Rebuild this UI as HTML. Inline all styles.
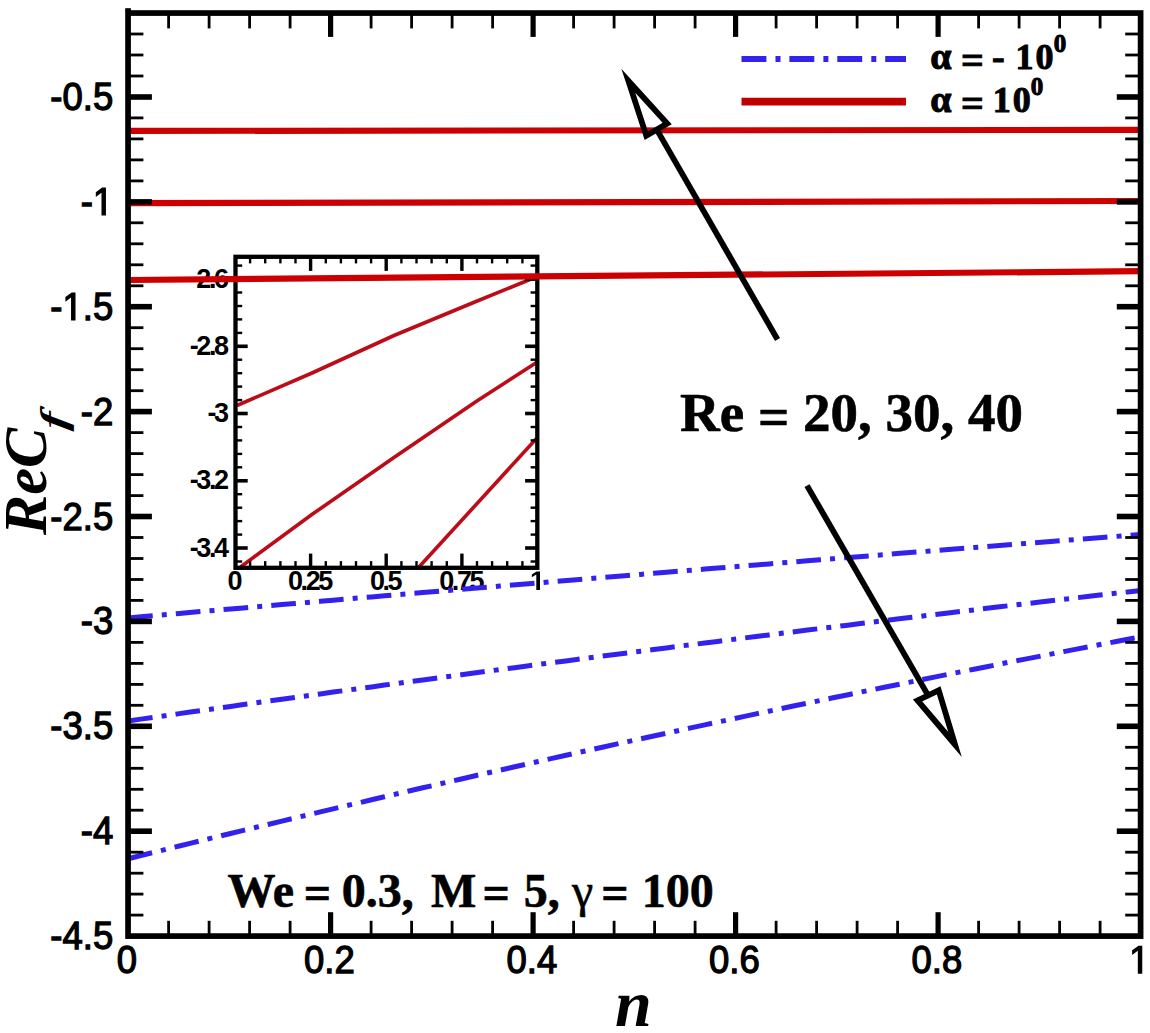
<!DOCTYPE html>
<html><head><meta charset="utf-8"><style>
html,body{margin:0;padding:0;background:#fff;width:1150px;height:1033px;overflow:hidden}
svg{display:block}
</style></head><body>
<svg width="1150" height="1033" viewBox="0 0 1150 1033">
<rect x="235.5" y="256.8" width="301.79999999999995" height="310.99999999999994" fill="#fff" stroke="none"/>
<polyline points="237.0,405.5 312.0,373.0 394.0,335.5 476.0,301.5 536.0,277.0" fill="none" stroke="#bb0c18" stroke-width="3.6"/>
<polyline points="240.5,567.0 312.2,514.3 394.3,457.3 476.5,401.2 536.5,362.5" fill="none" stroke="#bb0c18" stroke-width="3.6"/>
<polyline points="419.0,567.0 536.5,438.5" fill="none" stroke="#bb0c18" stroke-width="3.6"/>
<line x1="250.1" y1="567.8" x2="250.1" y2="561.1" stroke="#000" stroke-width="2.4"/>
<line x1="250.1" y1="256.8" x2="250.1" y2="263.4" stroke="#000" stroke-width="2.4"/>
<line x1="265.2" y1="567.8" x2="265.2" y2="561.1" stroke="#000" stroke-width="2.4"/>
<line x1="265.2" y1="256.8" x2="265.2" y2="263.4" stroke="#000" stroke-width="2.4"/>
<line x1="280.4" y1="567.8" x2="280.4" y2="561.1" stroke="#000" stroke-width="2.4"/>
<line x1="280.4" y1="256.8" x2="280.4" y2="263.4" stroke="#000" stroke-width="2.4"/>
<line x1="295.5" y1="567.8" x2="295.5" y2="561.1" stroke="#000" stroke-width="2.4"/>
<line x1="295.5" y1="256.8" x2="295.5" y2="263.4" stroke="#000" stroke-width="2.4"/>
<line x1="310.6" y1="567.8" x2="310.6" y2="553.6" stroke="#000" stroke-width="3.4"/>
<line x1="310.6" y1="256.8" x2="310.6" y2="270.9" stroke="#000" stroke-width="3.4"/>
<line x1="325.8" y1="567.8" x2="325.8" y2="561.1" stroke="#000" stroke-width="2.4"/>
<line x1="325.8" y1="256.8" x2="325.8" y2="263.4" stroke="#000" stroke-width="2.4"/>
<line x1="340.9" y1="567.8" x2="340.9" y2="561.1" stroke="#000" stroke-width="2.4"/>
<line x1="340.9" y1="256.8" x2="340.9" y2="263.4" stroke="#000" stroke-width="2.4"/>
<line x1="356.0" y1="567.8" x2="356.0" y2="561.1" stroke="#000" stroke-width="2.4"/>
<line x1="356.0" y1="256.8" x2="356.0" y2="263.4" stroke="#000" stroke-width="2.4"/>
<line x1="371.1" y1="567.8" x2="371.1" y2="561.1" stroke="#000" stroke-width="2.4"/>
<line x1="371.1" y1="256.8" x2="371.1" y2="263.4" stroke="#000" stroke-width="2.4"/>
<line x1="386.2" y1="567.8" x2="386.2" y2="553.6" stroke="#000" stroke-width="3.4"/>
<line x1="386.2" y1="256.8" x2="386.2" y2="270.9" stroke="#000" stroke-width="3.4"/>
<line x1="401.4" y1="567.8" x2="401.4" y2="561.1" stroke="#000" stroke-width="2.4"/>
<line x1="401.4" y1="256.8" x2="401.4" y2="263.4" stroke="#000" stroke-width="2.4"/>
<line x1="416.5" y1="567.8" x2="416.5" y2="561.1" stroke="#000" stroke-width="2.4"/>
<line x1="416.5" y1="256.8" x2="416.5" y2="263.4" stroke="#000" stroke-width="2.4"/>
<line x1="431.6" y1="567.8" x2="431.6" y2="561.1" stroke="#000" stroke-width="2.4"/>
<line x1="431.6" y1="256.8" x2="431.6" y2="263.4" stroke="#000" stroke-width="2.4"/>
<line x1="446.8" y1="567.8" x2="446.8" y2="561.1" stroke="#000" stroke-width="2.4"/>
<line x1="446.8" y1="256.8" x2="446.8" y2="263.4" stroke="#000" stroke-width="2.4"/>
<line x1="461.9" y1="567.8" x2="461.9" y2="553.6" stroke="#000" stroke-width="3.4"/>
<line x1="461.9" y1="256.8" x2="461.9" y2="270.9" stroke="#000" stroke-width="3.4"/>
<line x1="477.0" y1="567.8" x2="477.0" y2="561.1" stroke="#000" stroke-width="2.4"/>
<line x1="477.0" y1="256.8" x2="477.0" y2="263.4" stroke="#000" stroke-width="2.4"/>
<line x1="492.1" y1="567.8" x2="492.1" y2="561.1" stroke="#000" stroke-width="2.4"/>
<line x1="492.1" y1="256.8" x2="492.1" y2="263.4" stroke="#000" stroke-width="2.4"/>
<line x1="507.2" y1="567.8" x2="507.2" y2="561.1" stroke="#000" stroke-width="2.4"/>
<line x1="507.2" y1="256.8" x2="507.2" y2="263.4" stroke="#000" stroke-width="2.4"/>
<line x1="522.4" y1="567.8" x2="522.4" y2="561.1" stroke="#000" stroke-width="2.4"/>
<line x1="522.4" y1="256.8" x2="522.4" y2="263.4" stroke="#000" stroke-width="2.4"/>
<line x1="235.5" y1="265.6" x2="242.2" y2="265.6" stroke="#000" stroke-width="2.4"/>
<line x1="537.3" y1="265.6" x2="530.6" y2="265.6" stroke="#000" stroke-width="2.4"/>
<line x1="235.5" y1="279.1" x2="247.7" y2="279.1" stroke="#000" stroke-width="3.6"/>
<line x1="537.3" y1="279.1" x2="525.1" y2="279.1" stroke="#000" stroke-width="3.6"/>
<line x1="235.5" y1="292.5" x2="242.2" y2="292.5" stroke="#000" stroke-width="2.4"/>
<line x1="537.3" y1="292.5" x2="530.6" y2="292.5" stroke="#000" stroke-width="2.4"/>
<line x1="235.5" y1="306.0" x2="242.2" y2="306.0" stroke="#000" stroke-width="2.4"/>
<line x1="537.3" y1="306.0" x2="530.6" y2="306.0" stroke="#000" stroke-width="2.4"/>
<line x1="235.5" y1="319.4" x2="242.2" y2="319.4" stroke="#000" stroke-width="2.4"/>
<line x1="537.3" y1="319.4" x2="530.6" y2="319.4" stroke="#000" stroke-width="2.4"/>
<line x1="235.5" y1="332.9" x2="242.2" y2="332.9" stroke="#000" stroke-width="2.4"/>
<line x1="537.3" y1="332.9" x2="530.6" y2="332.9" stroke="#000" stroke-width="2.4"/>
<line x1="235.5" y1="346.3" x2="247.7" y2="346.3" stroke="#000" stroke-width="3.6"/>
<line x1="537.3" y1="346.3" x2="525.1" y2="346.3" stroke="#000" stroke-width="3.6"/>
<line x1="235.5" y1="359.7" x2="242.2" y2="359.7" stroke="#000" stroke-width="2.4"/>
<line x1="537.3" y1="359.7" x2="530.6" y2="359.7" stroke="#000" stroke-width="2.4"/>
<line x1="235.5" y1="373.2" x2="242.2" y2="373.2" stroke="#000" stroke-width="2.4"/>
<line x1="537.3" y1="373.2" x2="530.6" y2="373.2" stroke="#000" stroke-width="2.4"/>
<line x1="235.5" y1="386.6" x2="242.2" y2="386.6" stroke="#000" stroke-width="2.4"/>
<line x1="537.3" y1="386.6" x2="530.6" y2="386.6" stroke="#000" stroke-width="2.4"/>
<line x1="235.5" y1="400.1" x2="242.2" y2="400.1" stroke="#000" stroke-width="2.4"/>
<line x1="537.3" y1="400.1" x2="530.6" y2="400.1" stroke="#000" stroke-width="2.4"/>
<line x1="235.5" y1="413.5" x2="247.7" y2="413.5" stroke="#000" stroke-width="3.6"/>
<line x1="537.3" y1="413.5" x2="525.1" y2="413.5" stroke="#000" stroke-width="3.6"/>
<line x1="235.5" y1="427.0" x2="242.2" y2="427.0" stroke="#000" stroke-width="2.4"/>
<line x1="537.3" y1="427.0" x2="530.6" y2="427.0" stroke="#000" stroke-width="2.4"/>
<line x1="235.5" y1="440.4" x2="242.2" y2="440.4" stroke="#000" stroke-width="2.4"/>
<line x1="537.3" y1="440.4" x2="530.6" y2="440.4" stroke="#000" stroke-width="2.4"/>
<line x1="235.5" y1="453.9" x2="242.2" y2="453.9" stroke="#000" stroke-width="2.4"/>
<line x1="537.3" y1="453.9" x2="530.6" y2="453.9" stroke="#000" stroke-width="2.4"/>
<line x1="235.5" y1="467.3" x2="242.2" y2="467.3" stroke="#000" stroke-width="2.4"/>
<line x1="537.3" y1="467.3" x2="530.6" y2="467.3" stroke="#000" stroke-width="2.4"/>
<line x1="235.5" y1="480.8" x2="247.7" y2="480.8" stroke="#000" stroke-width="3.6"/>
<line x1="537.3" y1="480.8" x2="525.1" y2="480.8" stroke="#000" stroke-width="3.6"/>
<line x1="235.5" y1="494.2" x2="242.2" y2="494.2" stroke="#000" stroke-width="2.4"/>
<line x1="537.3" y1="494.2" x2="530.6" y2="494.2" stroke="#000" stroke-width="2.4"/>
<line x1="235.5" y1="507.7" x2="242.2" y2="507.7" stroke="#000" stroke-width="2.4"/>
<line x1="537.3" y1="507.7" x2="530.6" y2="507.7" stroke="#000" stroke-width="2.4"/>
<line x1="235.5" y1="521.1" x2="242.2" y2="521.1" stroke="#000" stroke-width="2.4"/>
<line x1="537.3" y1="521.1" x2="530.6" y2="521.1" stroke="#000" stroke-width="2.4"/>
<line x1="235.5" y1="534.6" x2="242.2" y2="534.6" stroke="#000" stroke-width="2.4"/>
<line x1="537.3" y1="534.6" x2="530.6" y2="534.6" stroke="#000" stroke-width="2.4"/>
<line x1="235.5" y1="548.0" x2="247.7" y2="548.0" stroke="#000" stroke-width="3.6"/>
<line x1="537.3" y1="548.0" x2="525.1" y2="548.0" stroke="#000" stroke-width="3.6"/>
<line x1="235.5" y1="561.5" x2="242.2" y2="561.5" stroke="#000" stroke-width="2.4"/>
<line x1="537.3" y1="561.5" x2="530.6" y2="561.5" stroke="#000" stroke-width="2.4"/>
<rect x="235.5" y="256.8" width="301.79999999999995" height="310.99999999999994" fill="none" stroke="#000" stroke-width="4.3"/>
<g transform="translate(229.00,287.76) scale(1.0,1)" fill="#000"><text x="-39.32 -32.73 -20.12 -15.02" y="0" font-family="'Liberation Sans', sans-serif" font-weight="bold" font-style="normal" font-size="27" stroke-width="0.0">-2.6</text></g>
<g transform="translate(229.00,355.00) scale(1.0,1)" fill="#000"><text x="-39.32 -32.73 -20.12 -15.02" y="0" font-family="'Liberation Sans', sans-serif" font-weight="bold" font-style="normal" font-size="27" stroke-width="0.0">-2.8</text></g>
<g transform="translate(229.00,422.24) scale(1.0,1)" fill="#000"><text x="-21.61 -15.02" y="0" font-family="'Liberation Sans', sans-serif" font-weight="bold" font-style="normal" font-size="27" stroke-width="0.0">-3</text></g>
<g transform="translate(229.00,489.48) scale(1.0,1)" fill="#000"><text x="-39.32 -32.73 -20.12 -15.02" y="0" font-family="'Liberation Sans', sans-serif" font-weight="bold" font-style="normal" font-size="27" stroke-width="0.0">-3.2</text></g>
<g transform="translate(229.00,556.72) scale(1.0,1)" fill="#000"><text x="-39.32 -32.73 -20.12 -15.02" y="0" font-family="'Liberation Sans', sans-serif" font-weight="bold" font-style="normal" font-size="27" stroke-width="0.0">-3.4</text></g>
<g transform="translate(235.00,590.00) scale(1.0,1)" fill="#000"><text x="-7.51" y="0" font-family="'Liberation Sans', sans-serif" font-weight="bold" font-style="normal" font-size="27" stroke-width="0.0">0</text></g>
<g transform="translate(310.62,590.00) scale(1.0,1)" fill="#000"><text x="-22.67 -10.06 -4.96 7.66" y="0" font-family="'Liberation Sans', sans-serif" font-weight="bold" font-style="normal" font-size="27" stroke-width="0.0">0.25</text></g>
<g transform="translate(386.25,590.00) scale(1.0,1)" fill="#000"><text x="-16.37 -3.75 1.35" y="0" font-family="'Liberation Sans', sans-serif" font-weight="bold" font-style="normal" font-size="27" stroke-width="0.0">0.5</text></g>
<g transform="translate(461.88,590.00) scale(1.0,1)" fill="#000"><text x="-22.67 -10.06 -4.96 7.66" y="0" font-family="'Liberation Sans', sans-serif" font-weight="bold" font-style="normal" font-size="27" stroke-width="0.0">0.75</text></g>
<g transform="translate(537.50,590.00) scale(1.0,1)" fill="#000"><path transform="translate(-7.51,0) scale(0.01318,-0.01318)" d="M478,0 L478,1170 L140,959 L140,1180 L493,1409 L759,1409 L759,0 Z" stroke-width="0.0"/></g>
<line x1="128.05" y1="130.9" x2="1140.6" y2="129.9" stroke="#cc0000" stroke-width="6.2"/>
<line x1="128.05" y1="203.2" x2="1140.6" y2="201.0" stroke="#cc0000" stroke-width="6.2"/>
<line x1="128.05" y1="280.0" x2="1140.6" y2="271.2" stroke="#cc0000" stroke-width="6.2"/>
<polyline points="128.1,617.9 140.9,616.8 153.7,615.7 166.5,614.5 179.3,613.4 192.1,612.3 205.0,611.2 217.8,610.1 230.6,609.0 243.4,607.9 256.2,606.8 269.0,605.7 281.9,604.6 294.7,603.5 307.5,602.4 320.3,601.3 333.1,600.2 345.9,599.1 358.8,598.0 371.6,596.9 384.4,595.8 397.2,594.7 410.0,593.6 422.8,592.6 435.7,591.5 448.5,590.4 461.3,589.3 474.1,588.2 486.9,587.2 499.7,586.1 512.6,585.0 525.4,584.0 538.2,582.9 551.0,581.8 563.8,580.7 576.6,579.7 589.5,578.6 602.3,577.6 615.1,576.5 627.9,575.4 640.7,574.4 653.6,573.3 666.4,572.3 679.2,571.2 692.0,570.2 704.8,569.1 717.6,568.1 730.5,567.0 743.3,566.0 756.1,565.0 768.9,563.9 781.7,562.9 794.5,561.9 807.4,560.8 820.2,559.8 833.0,558.8 845.8,557.7 858.6,556.7 871.4,555.7 884.3,554.6 897.1,553.6 909.9,552.6 922.7,551.6 935.5,550.6 948.3,549.5 961.2,548.5 974.0,547.5 986.8,546.5 999.6,545.5 1012.4,544.5 1025.2,543.5 1038.1,542.5 1050.9,541.5 1063.7,540.5 1076.5,539.5 1089.3,538.5 1102.1,537.5 1115.0,536.5 1127.8,535.5 1140.6,534.5" fill="none" stroke="#3322ee" stroke-width="5.0" stroke-dasharray="24.7 9.1 5 9.1"/>
<polyline points="128.1,721.0 140.9,719.1 153.7,717.3 166.5,715.5 179.3,713.6 192.1,711.8 205.0,710.0 217.8,708.2 230.6,706.4 243.4,704.6 256.2,702.8 269.0,701.0 281.9,699.2 294.7,697.5 307.5,695.7 320.3,693.9 333.1,692.1 345.9,690.4 358.8,688.6 371.6,686.9 384.4,685.1 397.2,683.4 410.0,681.6 422.8,679.9 435.7,678.2 448.5,676.5 461.3,674.7 474.1,673.0 486.9,671.3 499.7,669.6 512.6,667.9 525.4,666.2 538.2,664.5 551.0,662.8 563.8,661.2 576.6,659.5 589.5,657.8 602.3,656.1 615.1,654.5 627.9,652.8 640.7,651.2 653.6,649.5 666.4,647.9 679.2,646.2 692.0,644.6 704.8,643.0 717.6,641.4 730.5,639.7 743.3,638.1 756.1,636.5 768.9,634.9 781.7,633.3 794.5,631.7 807.4,630.1 820.2,628.5 833.0,627.0 845.8,625.4 858.6,623.8 871.4,622.2 884.3,620.7 897.1,619.1 909.9,617.6 922.7,616.0 935.5,614.5 948.3,612.9 961.2,611.4 974.0,609.9 986.8,608.3 999.6,606.8 1012.4,605.3 1025.2,603.8 1038.1,602.3 1050.9,600.8 1063.7,599.3 1076.5,597.8 1089.3,596.3 1102.1,594.8 1115.0,593.3 1127.8,591.9 1140.6,590.4" fill="none" stroke="#3322ee" stroke-width="5.0" stroke-dasharray="24.7 9.1 5 9.1"/>
<polyline points="128.1,858.7 140.9,855.5 153.7,852.4 166.5,849.2 179.3,846.0 192.1,842.9 205.0,839.7 217.8,836.6 230.6,833.5 243.4,830.4 256.2,827.3 269.0,824.2 281.9,821.1 294.7,818.0 307.5,815.0 320.3,811.9 333.1,808.9 345.9,805.8 358.8,802.8 371.6,799.8 384.4,796.8 397.2,793.8 410.0,790.8 422.8,787.8 435.7,784.9 448.5,781.9 461.3,779.0 474.1,776.0 486.9,773.1 499.7,770.2 512.6,767.3 525.4,764.4 538.2,761.5 551.0,758.6 563.8,755.8 576.6,752.9 589.5,750.1 602.3,747.2 615.1,744.4 627.9,741.6 640.7,738.8 653.6,736.0 666.4,733.2 679.2,730.4 692.0,727.6 704.8,724.9 717.6,722.1 730.5,719.4 743.3,716.6 756.1,713.9 768.9,711.2 781.7,708.5 794.5,705.8 807.4,703.1 820.2,700.5 833.0,697.8 845.8,695.2 858.6,692.5 871.4,689.9 884.3,687.3 897.1,684.7 909.9,682.1 922.7,679.5 935.5,676.9 948.3,674.3 961.2,671.7 974.0,669.2 986.8,666.7 999.6,664.1 1012.4,661.6 1025.2,659.1 1038.1,656.6 1050.9,654.1 1063.7,651.6 1076.5,649.1 1089.3,646.7 1102.1,644.2 1115.0,641.8 1127.8,639.3 1140.6,636.9" fill="none" stroke="#3322ee" stroke-width="5.0" stroke-dasharray="24.7 9.1 5 9.1"/>
<line x1="168.6" y1="936.1" x2="168.6" y2="920.8" stroke="#000" stroke-width="2.8"/>
<line x1="168.6" y1="13.05" x2="168.6" y2="28.4" stroke="#000" stroke-width="2.8"/>
<line x1="209.1" y1="936.1" x2="209.1" y2="920.8" stroke="#000" stroke-width="2.8"/>
<line x1="209.1" y1="13.05" x2="209.1" y2="28.4" stroke="#000" stroke-width="2.8"/>
<line x1="249.6" y1="936.1" x2="249.6" y2="920.8" stroke="#000" stroke-width="2.8"/>
<line x1="249.6" y1="13.05" x2="249.6" y2="28.4" stroke="#000" stroke-width="2.8"/>
<line x1="290.1" y1="936.1" x2="290.1" y2="920.8" stroke="#000" stroke-width="2.8"/>
<line x1="290.1" y1="13.05" x2="290.1" y2="28.4" stroke="#000" stroke-width="2.8"/>
<line x1="330.6" y1="936.1" x2="330.6" y2="912.2" stroke="#000" stroke-width="5.2"/>
<line x1="330.6" y1="13.05" x2="330.6" y2="36.9" stroke="#000" stroke-width="5.2"/>
<line x1="371.1" y1="936.1" x2="371.1" y2="920.8" stroke="#000" stroke-width="2.8"/>
<line x1="371.1" y1="13.05" x2="371.1" y2="28.4" stroke="#000" stroke-width="2.8"/>
<line x1="411.6" y1="936.1" x2="411.6" y2="920.8" stroke="#000" stroke-width="2.8"/>
<line x1="411.6" y1="13.05" x2="411.6" y2="28.4" stroke="#000" stroke-width="2.8"/>
<line x1="452.1" y1="936.1" x2="452.1" y2="920.8" stroke="#000" stroke-width="2.8"/>
<line x1="452.1" y1="13.05" x2="452.1" y2="28.4" stroke="#000" stroke-width="2.8"/>
<line x1="492.6" y1="936.1" x2="492.6" y2="920.8" stroke="#000" stroke-width="2.8"/>
<line x1="492.6" y1="13.05" x2="492.6" y2="28.4" stroke="#000" stroke-width="2.8"/>
<line x1="533.1" y1="936.1" x2="533.1" y2="912.2" stroke="#000" stroke-width="5.2"/>
<line x1="533.1" y1="13.05" x2="533.1" y2="36.9" stroke="#000" stroke-width="5.2"/>
<line x1="573.6" y1="936.1" x2="573.6" y2="920.8" stroke="#000" stroke-width="2.8"/>
<line x1="573.6" y1="13.05" x2="573.6" y2="28.4" stroke="#000" stroke-width="2.8"/>
<line x1="614.1" y1="936.1" x2="614.1" y2="920.8" stroke="#000" stroke-width="2.8"/>
<line x1="614.1" y1="13.05" x2="614.1" y2="28.4" stroke="#000" stroke-width="2.8"/>
<line x1="654.6" y1="936.1" x2="654.6" y2="920.8" stroke="#000" stroke-width="2.8"/>
<line x1="654.6" y1="13.05" x2="654.6" y2="28.4" stroke="#000" stroke-width="2.8"/>
<line x1="695.1" y1="936.1" x2="695.1" y2="920.8" stroke="#000" stroke-width="2.8"/>
<line x1="695.1" y1="13.05" x2="695.1" y2="28.4" stroke="#000" stroke-width="2.8"/>
<line x1="735.6" y1="936.1" x2="735.6" y2="912.2" stroke="#000" stroke-width="5.2"/>
<line x1="735.6" y1="13.05" x2="735.6" y2="36.9" stroke="#000" stroke-width="5.2"/>
<line x1="776.1" y1="936.1" x2="776.1" y2="920.8" stroke="#000" stroke-width="2.8"/>
<line x1="776.1" y1="13.05" x2="776.1" y2="28.4" stroke="#000" stroke-width="2.8"/>
<line x1="816.6" y1="936.1" x2="816.6" y2="920.8" stroke="#000" stroke-width="2.8"/>
<line x1="816.6" y1="13.05" x2="816.6" y2="28.4" stroke="#000" stroke-width="2.8"/>
<line x1="857.1" y1="936.1" x2="857.1" y2="920.8" stroke="#000" stroke-width="2.8"/>
<line x1="857.1" y1="13.05" x2="857.1" y2="28.4" stroke="#000" stroke-width="2.8"/>
<line x1="897.6" y1="936.1" x2="897.6" y2="920.8" stroke="#000" stroke-width="2.8"/>
<line x1="897.6" y1="13.05" x2="897.6" y2="28.4" stroke="#000" stroke-width="2.8"/>
<line x1="938.1" y1="936.1" x2="938.1" y2="912.2" stroke="#000" stroke-width="5.2"/>
<line x1="938.1" y1="13.05" x2="938.1" y2="36.9" stroke="#000" stroke-width="5.2"/>
<line x1="978.6" y1="936.1" x2="978.6" y2="920.8" stroke="#000" stroke-width="2.8"/>
<line x1="978.6" y1="13.05" x2="978.6" y2="28.4" stroke="#000" stroke-width="2.8"/>
<line x1="1019.1" y1="936.1" x2="1019.1" y2="920.8" stroke="#000" stroke-width="2.8"/>
<line x1="1019.1" y1="13.05" x2="1019.1" y2="28.4" stroke="#000" stroke-width="2.8"/>
<line x1="1059.6" y1="936.1" x2="1059.6" y2="920.8" stroke="#000" stroke-width="2.8"/>
<line x1="1059.6" y1="13.05" x2="1059.6" y2="28.4" stroke="#000" stroke-width="2.8"/>
<line x1="1100.1" y1="936.1" x2="1100.1" y2="920.8" stroke="#000" stroke-width="2.8"/>
<line x1="1100.1" y1="13.05" x2="1100.1" y2="28.4" stroke="#000" stroke-width="2.8"/>
<line x1="128.05" y1="915.1" x2="143.4" y2="915.1" stroke="#000" stroke-width="2.8"/>
<line x1="1140.6" y1="915.1" x2="1125.2" y2="915.1" stroke="#000" stroke-width="2.8"/>
<line x1="128.05" y1="894.1" x2="143.4" y2="894.1" stroke="#000" stroke-width="2.8"/>
<line x1="1140.6" y1="894.1" x2="1125.2" y2="894.1" stroke="#000" stroke-width="2.8"/>
<line x1="128.05" y1="873.2" x2="143.4" y2="873.2" stroke="#000" stroke-width="2.8"/>
<line x1="1140.6" y1="873.2" x2="1125.2" y2="873.2" stroke="#000" stroke-width="2.8"/>
<line x1="128.05" y1="852.2" x2="143.4" y2="852.2" stroke="#000" stroke-width="2.8"/>
<line x1="1140.6" y1="852.2" x2="1125.2" y2="852.2" stroke="#000" stroke-width="2.8"/>
<line x1="128.05" y1="831.2" x2="151.9" y2="831.2" stroke="#000" stroke-width="5.6"/>
<line x1="1140.6" y1="831.2" x2="1116.8" y2="831.2" stroke="#000" stroke-width="5.6"/>
<line x1="128.05" y1="810.2" x2="143.4" y2="810.2" stroke="#000" stroke-width="2.8"/>
<line x1="1140.6" y1="810.2" x2="1125.2" y2="810.2" stroke="#000" stroke-width="2.8"/>
<line x1="128.05" y1="789.3" x2="143.4" y2="789.3" stroke="#000" stroke-width="2.8"/>
<line x1="1140.6" y1="789.3" x2="1125.2" y2="789.3" stroke="#000" stroke-width="2.8"/>
<line x1="128.05" y1="768.3" x2="143.4" y2="768.3" stroke="#000" stroke-width="2.8"/>
<line x1="1140.6" y1="768.3" x2="1125.2" y2="768.3" stroke="#000" stroke-width="2.8"/>
<line x1="128.05" y1="747.3" x2="143.4" y2="747.3" stroke="#000" stroke-width="2.8"/>
<line x1="1140.6" y1="747.3" x2="1125.2" y2="747.3" stroke="#000" stroke-width="2.8"/>
<line x1="128.05" y1="726.3" x2="151.9" y2="726.3" stroke="#000" stroke-width="5.6"/>
<line x1="1140.6" y1="726.3" x2="1116.8" y2="726.3" stroke="#000" stroke-width="5.6"/>
<line x1="128.05" y1="705.3" x2="143.4" y2="705.3" stroke="#000" stroke-width="2.8"/>
<line x1="1140.6" y1="705.3" x2="1125.2" y2="705.3" stroke="#000" stroke-width="2.8"/>
<line x1="128.05" y1="684.4" x2="143.4" y2="684.4" stroke="#000" stroke-width="2.8"/>
<line x1="1140.6" y1="684.4" x2="1125.2" y2="684.4" stroke="#000" stroke-width="2.8"/>
<line x1="128.05" y1="663.4" x2="143.4" y2="663.4" stroke="#000" stroke-width="2.8"/>
<line x1="1140.6" y1="663.4" x2="1125.2" y2="663.4" stroke="#000" stroke-width="2.8"/>
<line x1="128.05" y1="642.4" x2="143.4" y2="642.4" stroke="#000" stroke-width="2.8"/>
<line x1="1140.6" y1="642.4" x2="1125.2" y2="642.4" stroke="#000" stroke-width="2.8"/>
<line x1="128.05" y1="621.4" x2="151.9" y2="621.4" stroke="#000" stroke-width="5.6"/>
<line x1="1140.6" y1="621.4" x2="1116.8" y2="621.4" stroke="#000" stroke-width="5.6"/>
<line x1="128.05" y1="600.4" x2="143.4" y2="600.4" stroke="#000" stroke-width="2.8"/>
<line x1="1140.6" y1="600.4" x2="1125.2" y2="600.4" stroke="#000" stroke-width="2.8"/>
<line x1="128.05" y1="579.5" x2="143.4" y2="579.5" stroke="#000" stroke-width="2.8"/>
<line x1="1140.6" y1="579.5" x2="1125.2" y2="579.5" stroke="#000" stroke-width="2.8"/>
<line x1="128.05" y1="558.5" x2="143.4" y2="558.5" stroke="#000" stroke-width="2.8"/>
<line x1="1140.6" y1="558.5" x2="1125.2" y2="558.5" stroke="#000" stroke-width="2.8"/>
<line x1="128.05" y1="537.5" x2="143.4" y2="537.5" stroke="#000" stroke-width="2.8"/>
<line x1="1140.6" y1="537.5" x2="1125.2" y2="537.5" stroke="#000" stroke-width="2.8"/>
<line x1="128.05" y1="516.5" x2="151.9" y2="516.5" stroke="#000" stroke-width="5.6"/>
<line x1="1140.6" y1="516.5" x2="1116.8" y2="516.5" stroke="#000" stroke-width="5.6"/>
<line x1="128.05" y1="495.6" x2="143.4" y2="495.6" stroke="#000" stroke-width="2.8"/>
<line x1="1140.6" y1="495.6" x2="1125.2" y2="495.6" stroke="#000" stroke-width="2.8"/>
<line x1="128.05" y1="474.6" x2="143.4" y2="474.6" stroke="#000" stroke-width="2.8"/>
<line x1="1140.6" y1="474.6" x2="1125.2" y2="474.6" stroke="#000" stroke-width="2.8"/>
<line x1="128.05" y1="453.6" x2="143.4" y2="453.6" stroke="#000" stroke-width="2.8"/>
<line x1="1140.6" y1="453.6" x2="1125.2" y2="453.6" stroke="#000" stroke-width="2.8"/>
<line x1="128.05" y1="432.6" x2="143.4" y2="432.6" stroke="#000" stroke-width="2.8"/>
<line x1="1140.6" y1="432.6" x2="1125.2" y2="432.6" stroke="#000" stroke-width="2.8"/>
<line x1="128.05" y1="411.6" x2="151.9" y2="411.6" stroke="#000" stroke-width="5.6"/>
<line x1="1140.6" y1="411.6" x2="1116.8" y2="411.6" stroke="#000" stroke-width="5.6"/>
<line x1="128.05" y1="390.7" x2="143.4" y2="390.7" stroke="#000" stroke-width="2.8"/>
<line x1="1140.6" y1="390.7" x2="1125.2" y2="390.7" stroke="#000" stroke-width="2.8"/>
<line x1="128.05" y1="369.7" x2="143.4" y2="369.7" stroke="#000" stroke-width="2.8"/>
<line x1="1140.6" y1="369.7" x2="1125.2" y2="369.7" stroke="#000" stroke-width="2.8"/>
<line x1="128.05" y1="348.7" x2="143.4" y2="348.7" stroke="#000" stroke-width="2.8"/>
<line x1="1140.6" y1="348.7" x2="1125.2" y2="348.7" stroke="#000" stroke-width="2.8"/>
<line x1="128.05" y1="327.7" x2="143.4" y2="327.7" stroke="#000" stroke-width="2.8"/>
<line x1="1140.6" y1="327.7" x2="1125.2" y2="327.7" stroke="#000" stroke-width="2.8"/>
<line x1="128.05" y1="306.7" x2="151.9" y2="306.7" stroke="#000" stroke-width="5.6"/>
<line x1="1140.6" y1="306.7" x2="1116.8" y2="306.7" stroke="#000" stroke-width="5.6"/>
<line x1="128.05" y1="285.8" x2="143.4" y2="285.8" stroke="#000" stroke-width="2.8"/>
<line x1="1140.6" y1="285.8" x2="1125.2" y2="285.8" stroke="#000" stroke-width="2.8"/>
<line x1="128.05" y1="264.8" x2="143.4" y2="264.8" stroke="#000" stroke-width="2.8"/>
<line x1="1140.6" y1="264.8" x2="1125.2" y2="264.8" stroke="#000" stroke-width="2.8"/>
<line x1="128.05" y1="243.8" x2="143.4" y2="243.8" stroke="#000" stroke-width="2.8"/>
<line x1="1140.6" y1="243.8" x2="1125.2" y2="243.8" stroke="#000" stroke-width="2.8"/>
<line x1="128.05" y1="222.8" x2="143.4" y2="222.8" stroke="#000" stroke-width="2.8"/>
<line x1="1140.6" y1="222.8" x2="1125.2" y2="222.8" stroke="#000" stroke-width="2.8"/>
<line x1="128.05" y1="201.9" x2="151.9" y2="201.9" stroke="#000" stroke-width="5.6"/>
<line x1="1140.6" y1="201.9" x2="1116.8" y2="201.9" stroke="#000" stroke-width="5.6"/>
<line x1="128.05" y1="180.9" x2="143.4" y2="180.9" stroke="#000" stroke-width="2.8"/>
<line x1="1140.6" y1="180.9" x2="1125.2" y2="180.9" stroke="#000" stroke-width="2.8"/>
<line x1="128.05" y1="159.9" x2="143.4" y2="159.9" stroke="#000" stroke-width="2.8"/>
<line x1="1140.6" y1="159.9" x2="1125.2" y2="159.9" stroke="#000" stroke-width="2.8"/>
<line x1="128.05" y1="138.9" x2="143.4" y2="138.9" stroke="#000" stroke-width="2.8"/>
<line x1="1140.6" y1="138.9" x2="1125.2" y2="138.9" stroke="#000" stroke-width="2.8"/>
<line x1="128.05" y1="117.9" x2="143.4" y2="117.9" stroke="#000" stroke-width="2.8"/>
<line x1="1140.6" y1="117.9" x2="1125.2" y2="117.9" stroke="#000" stroke-width="2.8"/>
<line x1="128.05" y1="97.0" x2="151.9" y2="97.0" stroke="#000" stroke-width="5.6"/>
<line x1="1140.6" y1="97.0" x2="1116.8" y2="97.0" stroke="#000" stroke-width="5.6"/>
<line x1="128.05" y1="76.0" x2="143.4" y2="76.0" stroke="#000" stroke-width="2.8"/>
<line x1="1140.6" y1="76.0" x2="1125.2" y2="76.0" stroke="#000" stroke-width="2.8"/>
<line x1="128.05" y1="55.0" x2="143.4" y2="55.0" stroke="#000" stroke-width="2.8"/>
<line x1="1140.6" y1="55.0" x2="1125.2" y2="55.0" stroke="#000" stroke-width="2.8"/>
<line x1="128.05" y1="34.0" x2="143.4" y2="34.0" stroke="#000" stroke-width="2.8"/>
<line x1="1140.6" y1="34.0" x2="1125.2" y2="34.0" stroke="#000" stroke-width="2.8"/>
<rect x="128.05" y="13.05" width="1012.55" height="923.0500000000001" fill="none" stroke="#000" stroke-width="5.7"/>
<rect x="125.20" y="8.2" width="5.7" height="3" fill="#000"/>
<g transform="translate(113.20,949.10) scale(0.94,1)" fill="#000" stroke="#000"><text x="-66.86 -53.94 -32.36 -21.58" y="0" font-family="'Liberation Sans', sans-serif" font-weight="normal" font-style="normal" font-size="38.8" stroke-width="1.3">-4.5</text></g>
<g transform="translate(113.20,844.21) scale(0.94,1)" fill="#000" stroke="#000"><text x="-34.50 -21.58" y="0" font-family="'Liberation Sans', sans-serif" font-weight="normal" font-style="normal" font-size="38.8" stroke-width="1.3">-4</text></g>
<g transform="translate(113.20,739.32) scale(0.94,1)" fill="#000" stroke="#000"><text x="-66.86 -53.94 -32.36 -21.58" y="0" font-family="'Liberation Sans', sans-serif" font-weight="normal" font-style="normal" font-size="38.8" stroke-width="1.3">-3.5</text></g>
<g transform="translate(113.20,634.42) scale(0.94,1)" fill="#000" stroke="#000"><text x="-34.50 -21.58" y="0" font-family="'Liberation Sans', sans-serif" font-weight="normal" font-style="normal" font-size="38.8" stroke-width="1.3">-3</text></g>
<g transform="translate(113.20,529.53) scale(0.94,1)" fill="#000" stroke="#000"><text x="-66.86 -53.94 -32.36 -21.58" y="0" font-family="'Liberation Sans', sans-serif" font-weight="normal" font-style="normal" font-size="38.8" stroke-width="1.3">-2.5</text></g>
<g transform="translate(113.20,424.64) scale(0.94,1)" fill="#000" stroke="#000"><text x="-34.50 -21.58" y="0" font-family="'Liberation Sans', sans-serif" font-weight="normal" font-style="normal" font-size="38.8" stroke-width="1.3">-2</text></g>
<g transform="translate(113.20,319.75) scale(0.94,1)" fill="#000" stroke="#000"><text x="-66.86 -32.36 -21.58" y="0" font-family="'Liberation Sans', sans-serif" font-weight="normal" font-style="normal" font-size="38.8" stroke-width="1.3">-.5</text><path transform="translate(-53.94,0) scale(0.01895,-0.01895)" d="M515,0 L515,1237 L197,1010 L197,1180 L530,1409 L696,1409 L696,0 Z" stroke-width="68.6"/></g>
<g transform="translate(113.20,214.86) scale(0.94,1)" fill="#000" stroke="#000"><text x="-34.50" y="0" font-family="'Liberation Sans', sans-serif" font-weight="normal" font-style="normal" font-size="38.8" stroke-width="1.3">-</text><path transform="translate(-21.58,0) scale(0.01895,-0.01895)" d="M515,0 L515,1237 L197,1010 L197,1180 L530,1409 L696,1409 L696,0 Z" stroke-width="68.6"/></g>
<g transform="translate(113.20,109.96) scale(0.94,1)" fill="#000" stroke="#000"><text x="-66.86 -53.94 -32.36 -21.58" y="0" font-family="'Liberation Sans', sans-serif" font-weight="normal" font-style="normal" font-size="38.8" stroke-width="1.3">-0.5</text></g>
<g transform="translate(126.85,973.00) scale(0.94,1)" fill="#000" stroke="#000"><text x="-10.79" y="0" font-family="'Liberation Sans', sans-serif" font-weight="normal" font-style="normal" font-size="38.8" stroke-width="1.3">0</text></g>
<g transform="translate(329.36,973.00) scale(0.94,1)" fill="#000" stroke="#000"><text x="-26.97 -5.39 5.39" y="0" font-family="'Liberation Sans', sans-serif" font-weight="normal" font-style="normal" font-size="38.8" stroke-width="1.3">0.2</text></g>
<g transform="translate(531.87,973.00) scale(0.94,1)" fill="#000" stroke="#000"><text x="-26.97 -5.39 5.39" y="0" font-family="'Liberation Sans', sans-serif" font-weight="normal" font-style="normal" font-size="38.8" stroke-width="1.3">0.4</text></g>
<g transform="translate(734.38,973.00) scale(0.94,1)" fill="#000" stroke="#000"><text x="-26.97 -5.39 5.39" y="0" font-family="'Liberation Sans', sans-serif" font-weight="normal" font-style="normal" font-size="38.8" stroke-width="1.3">0.6</text></g>
<g transform="translate(936.89,973.00) scale(0.94,1)" fill="#000" stroke="#000"><text x="-26.97 -5.39 5.39" y="0" font-family="'Liberation Sans', sans-serif" font-weight="normal" font-style="normal" font-size="38.8" stroke-width="1.3">0.8</text></g>
<g transform="translate(1139.40,973.00) scale(0.94,1)" fill="#000" stroke="#000"><path transform="translate(-10.79,0) scale(0.01895,-0.01895)" d="M515,0 L515,1237 L197,1010 L197,1180 L530,1409 L696,1409 L696,0 Z" stroke-width="68.6"/></g>
<text x="614.95" y="1026.30" font-family="'Liberation Serif', serif" font-weight="bold" font-style="italic" font-size="66">n</text>
<g transform="translate(46,535) rotate(-90)"><text transform="scale(0.972,1)" x="0" y="0" font-family="'Liberation Serif', serif" font-weight="bold" font-style="italic" font-size="62">ReC</text><text transform="translate(104.3,19.5) skewX(-8) scale(1.4,1)" x="0" y="0" font-family="'Liberation Serif', serif" font-weight="bold" font-style="italic" font-size="37">f</text></g>
<line x1="777.5" y1="339.5" x2="656.8" y2="129.6" stroke="#000" stroke-width="5.8"/><polygon points="628.3,80.7 646.3,135.7 667.2,123.5" fill="none" stroke="#000" stroke-width="5.8" stroke-linejoin="miter" stroke-miterlimit="20"/>
<line x1="807" y1="485.6" x2="928.1" y2="695.4" stroke="#000" stroke-width="5.8"/><polygon points="955.0,744.5 917.6,700.4 938.7,690.4" fill="none" stroke="#000" stroke-width="5.8" stroke-linejoin="miter" stroke-miterlimit="20"/>
<text x="680" y="431" font-family="'Liberation Serif', serif" font-weight="bold" font-size="55" stroke="#000" stroke-width="0.6">Re <tspan dy="3.8">=</tspan><tspan dy="-3.8"> 20, 30, 40</tspan></text>
<text x="227.52" y="906.80" font-family="'Liberation Serif', serif" font-weight="bold" font-style="normal" font-size="48" stroke="#000" stroke-width="0.6">We</text>
<text x="303.81" y="909.20" font-family="'Liberation Serif', serif" font-weight="bold" font-style="normal" font-size="48" stroke="#000" stroke-width="0.6">=</text>
<text x="341.67" y="906.80" font-family="'Liberation Serif', serif" font-weight="bold" font-style="normal" font-size="48" stroke="#000" stroke-width="0.6">0.3,</text>
<text x="430.88" y="906.80" font-family="'Liberation Serif', serif" font-weight="bold" font-style="normal" font-size="48" stroke="#000" stroke-width="0.6">M</text>
<text x="482.61" y="909.20" font-family="'Liberation Serif', serif" font-weight="bold" font-style="normal" font-size="48" stroke="#000" stroke-width="0.6">=</text>
<text x="523.78" y="906.80" font-family="'Liberation Serif', serif" font-weight="bold" font-style="normal" font-size="48" stroke="#000" stroke-width="0.6">5,</text>
<text x="601.31" y="909.20" font-family="'Liberation Serif', serif" font-weight="bold" font-style="normal" font-size="48" stroke="#000" stroke-width="0.6">=</text>
<text x="641.66" y="906.80" font-family="'Liberation Serif', serif" font-weight="bold" font-style="normal" font-size="48" stroke="#000" stroke-width="0.6">100</text>
<text x="572.07" y="906.80" font-family="'Liberation Serif', serif" font-weight="normal" font-style="normal" font-size="48" stroke="#000" stroke-width="0.6">γ</text>
<line x1="741.5" y1="59" x2="906" y2="59" stroke="#3322ee" stroke-width="6" stroke-dasharray="24.9 9.1 5 8.9"/>
<line x1="741.5" y1="101.6" x2="906" y2="101.6" stroke="#c00000" stroke-width="7.8"/>
<text x="930.21" y="69.00" font-family="'Liberation Serif', serif" font-weight="bold" font-style="normal" font-size="38" stroke="#000" stroke-width="1.0">α</text>
<text x="960.91" y="74.00" font-family="'Liberation Serif', serif" font-weight="bold" font-style="normal" font-size="40" stroke="#000" stroke-width="1.0">=</text>
<text x="992.11" y="69.00" font-family="'Liberation Serif', serif" font-weight="bold" font-style="normal" font-size="38" stroke="#000" stroke-width="1.0">-</text>
<text x="1015.62" y="69.00" font-family="'Liberation Serif', serif" font-weight="bold" font-style="normal" font-size="36" stroke="#000" stroke-width="1.0" letter-spacing="2">10</text>
<text x="930.21" y="112.20" font-family="'Liberation Serif', serif" font-weight="bold" font-style="normal" font-size="38" stroke="#000" stroke-width="1.0">α</text>
<text x="960.91" y="117.20" font-family="'Liberation Serif', serif" font-weight="bold" font-style="normal" font-size="40" stroke="#000" stroke-width="1.0">=</text>
<text x="992.72" y="112.20" font-family="'Liberation Serif', serif" font-weight="bold" font-style="normal" font-size="36" stroke="#000" stroke-width="1.0" letter-spacing="2">10</text>
<text x="1053.85" y="51.60" font-family="'Liberation Serif', serif" font-weight="bold" font-style="normal" font-size="25" stroke="#000" stroke-width="1.0">0</text>
<text x="1030.85" y="94.80" font-family="'Liberation Serif', serif" font-weight="bold" font-style="normal" font-size="25" stroke="#000" stroke-width="1.0">0</text>
</svg>
</body></html>
